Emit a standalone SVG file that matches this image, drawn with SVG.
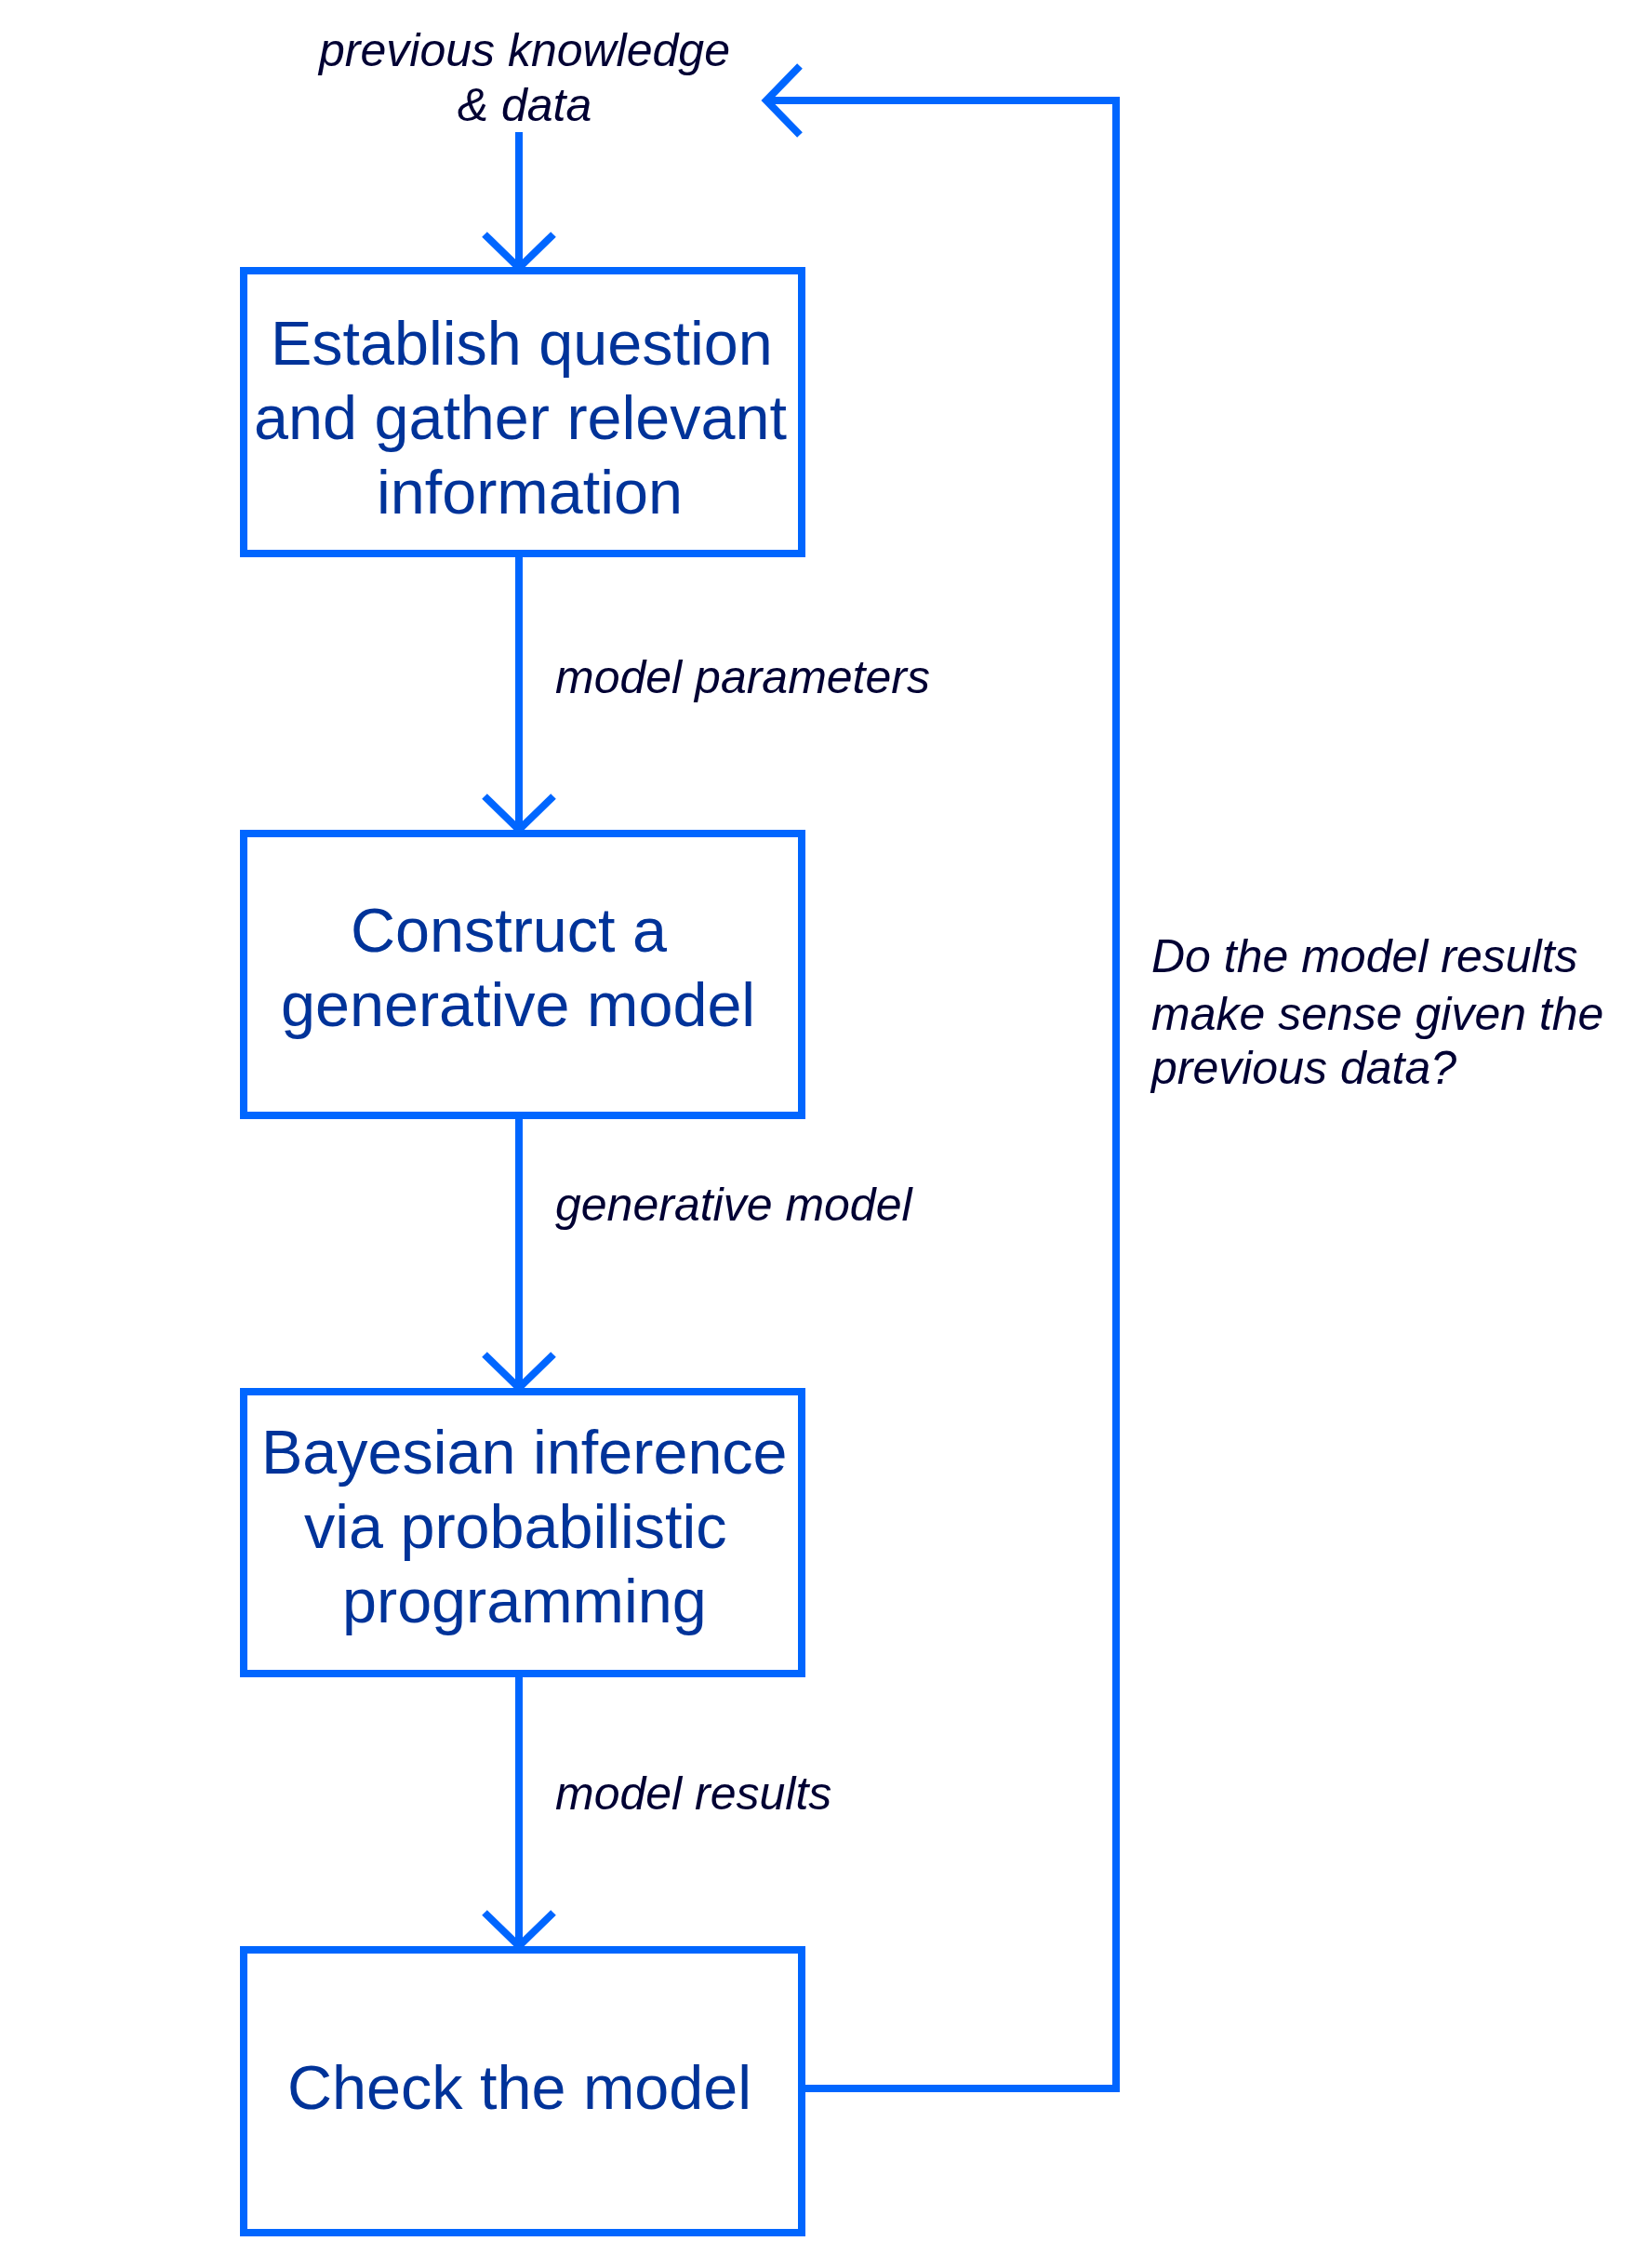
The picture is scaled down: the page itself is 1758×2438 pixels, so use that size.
<svg xmlns="http://www.w3.org/2000/svg" width="1758" height="2438" viewBox="0 0 1758 2438">
  <style>
    .box { fill: #ffffff; stroke: #0066ff; stroke-width: 8; }
    .conn { fill: none; stroke: #0066ff; stroke-width: 8; stroke-linejoin: miter; }
    .node-text { font-family: "Liberation Sans", Arial, sans-serif; font-size: 66.5px; fill: #003399; }
    .label { font-family: "Liberation Sans", Arial, sans-serif; font-size: 50px; font-style: italic; fill: #000033; }
  </style>
  <defs>
    <marker id="vhead" markerUnits="userSpaceOnUse" orient="auto" refX="0" refY="0" markerWidth="100" markerHeight="100" overflow="visible">
      <path d="M -36 -37 L 0 0 L -36 37" fill="none" stroke="#0066ff" stroke-width="8"/>
    </marker>
  </defs>
  <rect width="1758" height="2438" fill="#ffffff"/>

  <g id="connectors">
    <path class="conn" d="M 558 142 L 558 288" marker-end="url(#vhead)"/>
    <path class="conn" d="M 558 599 L 558 892" marker-end="url(#vhead)"/>
    <path class="conn" d="M 558 1203 L 558 1492" marker-end="url(#vhead)"/>
    <path class="conn" d="M 558 1803 L 558 2092" marker-end="url(#vhead)"/>
    <path class="conn" d="M 866 2245 L 1200 2245 L 1200 108 L 824 108" marker-end="url(#vhead)"/>
  </g>

  <g id="edge-labels">
    <text class="label" x="564" y="71" text-anchor="middle">previous knowledge</text>
    <text class="label" x="564" y="130" text-anchor="middle">&amp; data</text>
    <text class="label" x="597" y="745">model parameters</text>
    <text class="label" x="597" y="1312">generative model</text>
    <text class="label" x="597" y="1945">model results</text>
    <text class="label" x="1238" y="1045">Do the model results</text>
    <text class="label" x="1238" y="1107">make sense given the</text>
    <text class="label" x="1238" y="1165">previous data?</text>
  </g>

  <g id="node-establish">
    <rect class="box" x="262" y="291" width="600" height="304"/>
    <text class="node-text" x="291" y="392">Establish question</text>
    <text class="node-text" x="273" y="472">and gather relevant</text>
    <text class="node-text" x="405" y="552">information</text>
  </g>

  <g id="node-construct">
    <rect class="box" x="262" y="896" width="600" height="303"/>
    <text class="node-text" x="377" y="1023">Construct a</text>
    <text class="node-text" x="302" y="1103">generative model</text>
  </g>

  <g id="node-bayesian">
    <rect class="box" x="262" y="1496" width="600" height="303"/>
    <text class="node-text" x="281" y="1584">Bayesian inference</text>
    <text class="node-text" x="327" y="1664">via probabilistic</text>
    <text class="node-text" x="368" y="1744">programming</text>
  </g>

  <g id="node-check">
    <rect class="box" x="262" y="2096" width="600" height="304"/>
    <text class="node-text" x="309" y="2267">Check the model</text>
  </g>
</svg>
